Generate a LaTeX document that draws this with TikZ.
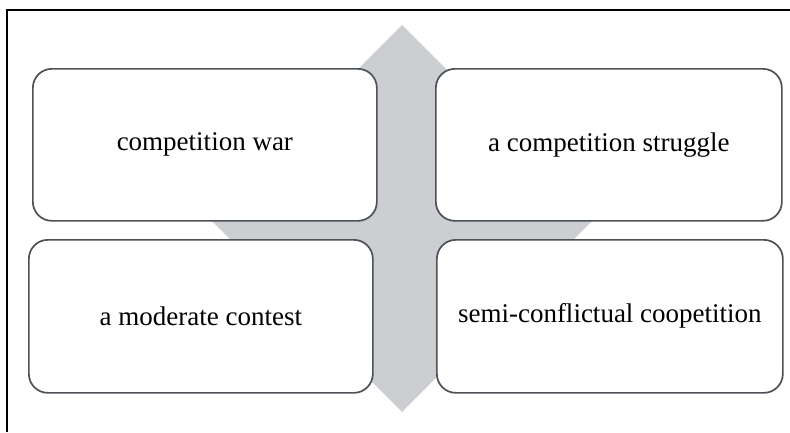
\documentclass[tikz,border=0pt]{standalone}
\usepackage{fontspec}
\setmainfont{Liberation Serif}
\definecolor{diamondgray}{HTML}{CDCED2}
\definecolor{boxline}{HTML}{4D5257}
\tikzset{
  cell/.style={draw=boxline, line width=1.7pt, fill=white,
    rounded corners=19pt, inner sep=0pt, anchor=north west,
    font=\fontsize{27}{32}\selectfont},
  frameline/.style={line width=2.8pt, black}
}
\begin{document}
\begin{tikzpicture}[x=1pt, y=-1pt]
  \useasboundingbox (0,0) rectangle (790,432);
  % open frame: only the top and left edges are shown
  \draw[frameline] (7,432) -- (7,10) -- (790,10);
  % grey diamond behind the four cells
  \fill[diamondgray] (402,25) -- (595,218) -- (402,412) -- (209,218) -- cycle;
  % the four cells
  \node[cell, minimum width=344pt, minimum height=152pt] (war) at (32,68) {competition war};
  \node[cell, minimum width=346pt, minimum height=152pt] (struggle) at (435,68) {a competition struggle};
  \node[cell, minimum width=344pt, minimum height=153pt] (contest) at (28,239) {a moderate contest};
  \node[cell, minimum width=346pt, minimum height=153pt] (coop) at (436,239) {semi-conflictual coopetition};
\end{tikzpicture}
\end{document}
